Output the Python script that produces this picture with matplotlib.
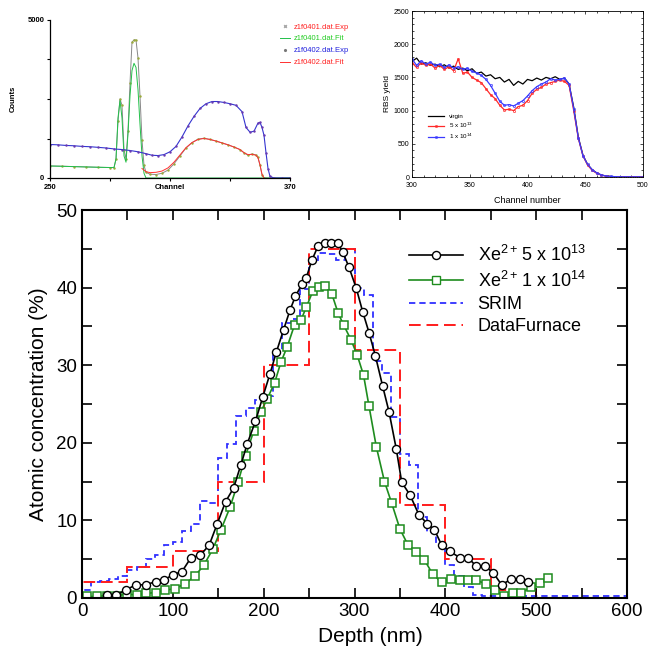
import matplotlib
matplotlib.use("Agg")
import matplotlib.pyplot as plt
from matplotlib.ticker import MultipleLocator
from matplotlib.lines import Line2D

plt.rcParams['font.family'] = ['Liberation Sans', 'DejaVu Sans']
plt.rcParams['mathtext.fontset'] = 'custom'
plt.rcParams['mathtext.rm'] = 'Liberation Sans'
plt.rcParams['mathtext.it'] = 'Liberation Sans:italic'
plt.rcParams['mathtext.bf'] = 'Liberation Sans:bold'

# ---- main panel: Xe depth profiles ----
# Xe2+ 5 x 10^13
depth_5e13 = [27, 37, 48, 59, 70, 81, 90, 100, 110, 120, 130, 140, 149, 158, 167, 175, 182, 191, 199, 207,
              214, 222, 229, 235, 242, 247, 253, 260, 267, 274, 282, 287, 294, 302, 309, 316, 323, 331, 338, 346,
              352, 361, 371, 380, 388, 396, 405, 416, 425, 434, 444, 453, 462, 472, 482, 491]
conc_5e13 = [0.4, 0.4, 1.0, 1.7, 1.7, 2.1, 2.3, 3.0, 3.4, 5.2, 5.5, 6.8, 9.6, 12.4, 14.2, 17.2, 19.9, 22.8, 25.9, 28.9,
             31.7, 34.6, 37.1, 38.9, 40.4, 41.3, 43.5, 45.4, 45.7, 45.7, 45.7, 44.6, 42.6, 39.9, 36.9, 34.2, 31.2, 27.3, 24.0, 19.2,
             14.9, 13.3, 10.7, 9.6, 8.8, 6.8, 6.0, 5.2, 5.2, 4.1, 4.1, 3.2, 1.7, 2.4, 2.5, 2.1]
# Xe2+ 1 x 10^14
depth_1e14 = [5, 16, 27, 38, 49, 60, 71, 81, 91, 102, 113, 124, 134, 144, 153, 163, 172, 180, 189, 197,
              204, 212, 219, 226, 234, 241, 247, 254, 261, 268, 275, 282, 288, 296, 303, 310, 316, 324, 333, 341,
              350, 359, 368, 377, 386, 396, 406, 416, 425, 434, 445, 455, 465, 474, 483, 494, 504, 513]
conc_1e14 = [0.2, 0.2, 0.3, 0.3, 0.5, 0.4, 0.6, 0.7, 1.0, 1.2, 1.8, 2.8, 4.2, 6.3, 8.8, 11.7, 15.0, 18.3, 21.5, 24.0,
             25.7, 27.7, 30.4, 32.4, 35.2, 35.8, 37.5, 39.5, 40.1, 40.2, 39.2, 36.7, 35.2, 33.3, 31.3, 28.7, 24.7, 19.5, 15.0, 12.2,
             8.9, 6.8, 5.9, 4.9, 3.1, 2.0, 2.5, 2.3, 2.3, 2.3, 1.8, 1.0, 0.2, 0.6, 0.6, 1.4, 1.9, 2.6]
# SRIM histogram, 10 nm bins
srim_edges = list(range(0, 601, 10))
srim_conc = [1.0, 2.0, 2.2, 2.5, 2.8, 3.6, 4.0, 5.0, 5.6, 6.8, 7.2, 8.6, 9.5, 12.5, 12.3, 18.0, 19.8, 23.5, 24.5, 25.5,
             26.0, 31.8, 35.5, 36.0, 39.8, 43.5, 44.5, 44.3, 43.5, 45.0, 40.0, 39.0, 30.5, 29.0, 23.3, 18.5, 17.2, 10.5, 8.5, 7.0,
             4.3, 2.8, 1.4, 0.4, 0.3, 0.2, 0.2, 0.2, 0.2, 0.2, 0.2, 0.2, 0.2, 0.2, 0.2, 0.2, 0.2, 0.2, 0.2, 0.2]
# DataFurnace layers, 50 nm
df_edges = [0, 50, 100, 150, 200, 250, 300, 350, 400, 450, 500, 550, 600]
df_conc = [2, 4, 6, 15, 30, 45, 32, 12, 5, 1, 0, 0]

main_labels = [r'Xe$^{2+}\,$5 x 10$^{13}$', r'Xe$^{2+}\,$1 x 10$^{14}$', 'SRIM', 'DataFurnace']

# ---- top right: RBS channelling spectra ----
rbs_channel = list(range(300, 501, 4))
rbs_virgin = [1740, 1790, 1700, 1720, 1680, 1700, 1660, 1690, 1640, 1670, 1620, 1640, 1600, 1630, 1560, 1580, 1520,
              1540, 1480, 1500, 1430, 1470, 1380, 1440, 1400, 1470, 1450, 1490, 1460, 1500, 1480, 1510, 1470, 1490,
              1400, 1050, 600, 330, 190, 110, 60, 30, 15, 8, 5, 3, 2, 1, 1, 0, 0]
rbs_5e13 = [1720, 1650, 1720, 1680, 1700, 1640, 1680, 1620, 1660, 1600, 1780, 1560, 1580, 1500, 1460, 1420, 1330,
            1240, 1180, 1080, 1010, 1020, 1000, 1060, 1080, 1150, 1260, 1320, 1350, 1400, 1420, 1440, 1460, 1440,
            1380, 1000, 580, 320, 180, 100, 55, 28, 14, 7, 4, 2, 1, 1, 0, 0, 0]
rbs_1e14 = [1780, 1680, 1750, 1700, 1730, 1680, 1700, 1650, 1690, 1640, 1660, 1620, 1640, 1590, 1570, 1530, 1470,
            1380, 1260, 1140, 1080, 1090, 1070, 1110, 1150, 1220, 1300, 1360, 1400, 1430, 1480, 1460, 1470, 1490,
            1400, 1030, 590, 320, 190, 110, 60, 30, 15, 8, 5, 3, 2, 1, 1, 0, 0]
rbs_labels = ['virgin', r'5 x 10$^{13}$', r'1 x 10$^{14}$']

# ---- top left: fitted spectra ----
exp1_ch = [250, 256, 262, 268, 274, 280, 282, 283, 284, 285, 286, 287, 288, 289, 290, 291, 292, 293, 294, 295,
           296, 297, 298, 300, 303, 306, 309, 312, 315, 318, 321, 324, 327, 330, 333, 336, 339, 342, 345, 347,
           349, 351, 353, 354, 355, 356, 357, 370]
exp1_cnt = [380, 375, 360, 350, 340, 330, 330, 600, 1800, 2500, 2300, 900, 600, 1500, 3000, 4300, 4370, 4370, 3800, 2600,
            1200, 400, 180, 120, 110, 150, 250, 450, 700, 950, 1120, 1230, 1260, 1220, 1170, 1110, 1050, 980, 900, 800,
            720, 760, 730, 650, 400, 100, 0, 0]
fit1_ch = [250, 262, 274, 282, 283, 284, 285, 286, 287, 288, 289, 290, 291, 292, 293, 294, 295, 296, 297, 298, 370]
fit1_cnt = [380, 360, 340, 330, 600, 1900, 2450, 1900, 700, 500, 1400, 2600, 3400, 3630, 3500, 2800, 1700, 700, 150, 0, 0]
exp2_ch = [250, 254, 258, 262, 266, 270, 274, 278, 282, 286, 290, 294, 298, 301, 304, 307, 310, 313, 316, 319,
           322, 325, 328, 331, 334, 337, 340, 343, 346, 348, 350, 352, 354, 355, 356, 357, 358, 359, 360, 362,
           366, 370]
exp2_cnt = [1060, 1050, 1030, 1020, 1000, 990, 970, 950, 920, 900, 870, 830, 770, 720, 710, 740, 830, 1000, 1300, 1650,
            1950, 2200, 2350, 2420, 2420, 2390, 2350, 2300, 2100, 1600, 1450, 1480, 1740, 1760, 1600, 1350, 800, 300, 50, 0,
            0, 0]
fit2_ch = [296, 298, 300, 303, 306, 309, 312, 315, 318, 321, 324, 327, 330, 333, 336, 339, 342, 345, 347, 349,
           351, 353, 354, 355, 356, 357]
fit2_cnt = [300, 200, 170, 180, 220, 320, 500, 730, 960, 1120, 1220, 1250, 1220, 1170, 1110, 1050, 980, 900, 800, 740,
            750, 720, 640, 420, 120, 0]
fit_labels = ['z1f0401.dat.Exp', 'z1f0401.dat.Fit', 'z1f0402.dat.Exp', 'z1f0402.dat.Fit']

W, H = 659, 655
fig = plt.figure(figsize=(W / 100, H / 100), dpi=100)

# main axes
ax = fig.add_axes([82 / W, 57 / H, 545 / W, 388 / H])
ax.stairs(srim_conc, srim_edges, baseline=0, color='#2f2fff', lw=1.3, ls=(0, (3.5, 2.2)))
ax.stairs(df_conc, df_edges, baseline=0, color='#ff1c1c', lw=1.4, ls=(0, (6, 3)))
ax.plot(depth_1e14, conc_1e14, color='#1e8c1e', lw=1.2, marker='s', ms=5.8, mfc='white', mew=1.1)
ax.plot(depth_5e13, conc_5e13, color='black', lw=1.2, marker='o', ms=5.8, mfc='white', mew=1.0)
ax.set_xlim(0, 600)
ax.set_ylim(0, 50)
ax.xaxis.set_major_locator(MultipleLocator(100))
ax.xaxis.set_minor_locator(MultipleLocator(50))
ax.yaxis.set_major_locator(MultipleLocator(10))
ax.yaxis.set_minor_locator(MultipleLocator(5))
ax.tick_params(which='both', direction='in', top=True, right=True, length=7, width=1.2, labelsize=13.5)
for s in ax.spines.values():
    s.set_linewidth(1.5)
ax.set_xlabel('Depth (nm)', fontsize=15, labelpad=6)
ax.xaxis.set_label_coords(0.53, -0.075)
ax.set_ylabel('Atomic concentration (%)', fontsize=15, labelpad=6)

handles = [Line2D([], [], color='black', lw=1.2, marker='o', ms=5.8, mfc='white'),
           Line2D([], [], color='#1e8c1e', lw=1.2, marker='s', ms=5.8, mfc='white'),
           Line2D([], [], color='#2f2fff', lw=1.3, ls=(0, (3.5, 2.2))),
           Line2D([], [], color='#ff1c1c', lw=1.4, ls=(0, (6, 3)))]
ax.legend(handles, main_labels, loc='upper left', bbox_to_anchor=(0.6, 0.91), frameon=False,
          fontsize=13, handlelength=3.0, labelspacing=0.3, handletextpad=0.8, borderpad=0, borderaxespad=0)

# top right axes
axr = fig.add_axes([412 / W, (H - 177) / H, 231 / W, 166 / H])
axr.plot(rbs_channel, rbs_virgin, color='black', lw=0.9)
axr.plot(rbs_channel, rbs_5e13, color='#ff2a2a', lw=0.9, marker='o', ms=1.6, mfc='none', mew=0.5)
axr.plot(rbs_channel, rbs_1e14, color='#3a3aff', lw=0.9, marker='o', ms=1.6, mfc='none', mew=0.5)
axr.set_xlim(300, 500)
axr.set_ylim(0, 2500)
axr.xaxis.set_major_locator(MultipleLocator(50))
axr.xaxis.set_minor_locator(MultipleLocator(10))
axr.yaxis.set_major_locator(MultipleLocator(500))
axr.yaxis.set_minor_locator(MultipleLocator(100))
axr.tick_params(which='both', direction='in', top=True, right=True, labelsize=5, width=0.5)
axr.tick_params(axis='x', pad=3.5)
axr.tick_params(axis='y', pad=2)
axr.tick_params(which='major', length=2.5)
axr.tick_params(which='minor', length=1.3)
for s in axr.spines.values():
    s.set_linewidth(0.6)
axr.set_xlabel('Channel number', fontsize=6.5, labelpad=5)
axr.set_ylabel('RBS yield', fontsize=6, labelpad=2)
axr.legend(rbs_labels, loc='center left', bbox_to_anchor=(0.07, 0.3), frameon=False, fontsize=4.5,
           handlelength=2.5, labelspacing=0.3, handletextpad=0.8, borderpad=0, borderaxespad=0)

# top left axes
axl = fig.add_axes([50 / W, (H - 178) / H, 240 / W, 158 / H])
axl.plot(exp1_ch, exp1_cnt, color='#888888', lw=0.7, marker='.', ms=1.5, mfc='#9aaa3a', mec='#9aaa3a')
axl.plot(fit1_ch, fit1_cnt, color='#22c04a', lw=0.7)
axl.plot(exp2_ch, exp2_cnt, color='#3434d0', lw=0.8, marker='.', ms=1.5, mfc='#6a3ab0', mec='#6a3ab0')
axl.plot(fit2_ch, fit2_cnt, color='#ff3030', lw=0.7)
axl.set_xlim(250, 370)
axl.set_ylim(0, 5000)
axl.set_xticks([250, 280, 310, 340, 370])
axl.set_xticklabels(['250', '', 'Channel', '', '370'], fontweight='bold')
axl.set_yticks([0, 1250, 2500, 3750, 5000])
axl.set_yticklabels(['0', '', '', '', '5000'], fontweight='bold')
axl.tick_params(direction='out', labelsize=5.5, length=2.5, width=0.8, pad=1.5)
axl.spines['top'].set_visible(False)
axl.spines['right'].set_visible(False)
for s in ('left', 'bottom'):
    axl.spines[s].set_linewidth(0.9)
axl.set_ylabel('Counts', fontsize=5.5, fontweight='bold', labelpad=8)
fit_handles = [Line2D([], [], color='#aaaaaa', ls='none', marker='x', ms=2),
               Line2D([], [], color='#22c04a', lw=0.7),
               Line2D([], [], color='#777777', ls='none', marker='.', ms=2.5),
               Line2D([], [], color='#ff3030', lw=0.7)]
axl.legend(fit_handles, fit_labels, loc='upper left', bbox_to_anchor=(0.96, 0.98), frameon=False, fontsize=5.5,
           handlelength=1.2, labelspacing=0.6, handletextpad=0.5, borderpad=0, borderaxespad=0,
           labelcolor=['#ff2020', '#22cc22', '#2020dd', '#ff2020'])

fig.savefig('out.png', dpi=100)
